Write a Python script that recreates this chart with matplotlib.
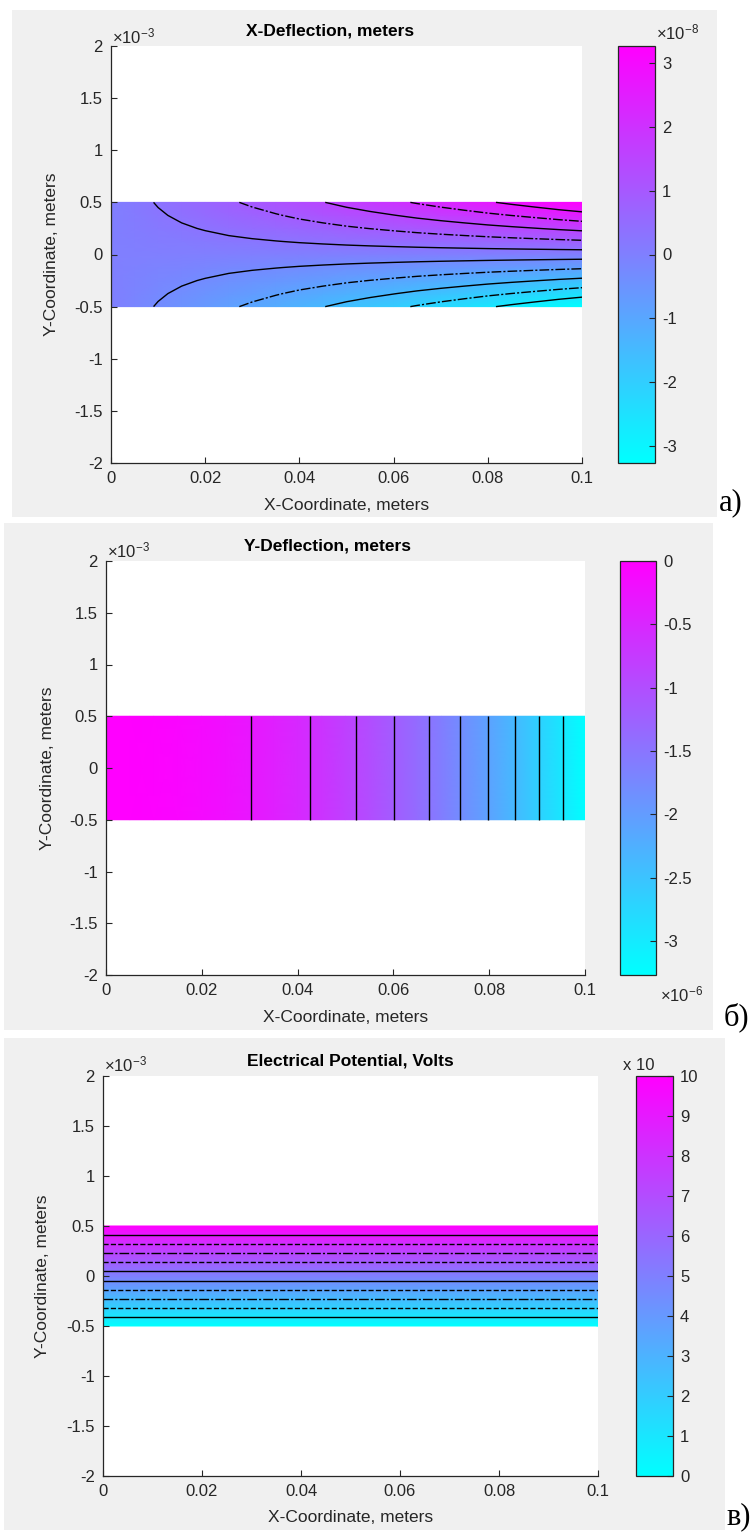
import numpy as np
import matplotlib
matplotlib.use("Agg")
import matplotlib.pyplot as plt
from matplotlib.patches import Rectangle

plt.rcParams['font.family'] = ['Liberation Sans', 'DejaVu Sans']
plt.rcParams['mathtext.fontset'] = 'custom'
plt.rcParams['mathtext.rm'] = 'Liberation Sans'
plt.rcParams['mathtext.it'] = 'Liberation Sans:italic'

# станции вдоль балки (м)
beam_x = [0.0, 0.005, 0.01, 0.015, 0.02, 0.025, 0.03, 0.035, 0.04, 0.045, 0.05,
          0.055, 0.06, 0.065, 0.07, 0.075, 0.08, 0.085, 0.09, 0.095, 0.1]
# станции по толщине (м)
beam_y = [-0.5e-3, -0.375e-3, -0.25e-3, -0.125e-3, 0.0,
          0.125e-3, 0.25e-3, 0.375e-3, 0.5e-3]

# а) X-прогиб на верхней грани (x1e-8 м)
ux_top = [0.0, 0.16, 0.33, 0.49, 0.65, 0.82, 0.98, 1.14, 1.31, 1.47, 1.64,
          1.80, 1.96, 2.13, 2.29, 2.45, 2.62, 2.78, 2.94, 3.11, 3.27]
# доля от значения на верхней грани, снизу вверх
ux_profile = [-1.0, -0.75, -0.5, -0.25, 0.0, 0.25, 0.5, 0.75, 1.0]
ux_range = [-3.27e-8, 3.27e-8]

# б) Y-прогиб вдоль балки (x1e-6 м)
uy = [0.0, -0.01, -0.03, -0.07, -0.13, -0.20, -0.29, -0.40, -0.52, -0.66, -0.82,
      -0.99, -1.18, -1.38, -1.60, -1.84, -2.09, -2.36, -2.65, -2.95, -3.27]
uy_range = [-3.27e-6, 0.0]

# в) потенциал на нижней и верхней гранях (В)
pot_x = [0.0, 0.1]
pot_y = [-0.5e-3, 0.5e-3]
pot = [0.0, 100.0]
pot_range = [0.0, 100.0]

# подписи осей
x_ticks = [0, 0.02, 0.04, 0.06, 0.08, 0.1]
x_labels = ['0', '0.02', '0.04', '0.06', '0.08', '0.1']
y_ticks = [-2e-3, -1.5e-3, -1e-3, -0.5e-3, 0, 0.5e-3, 1e-3, 1.5e-3, 2e-3]
y_labels = ['-2', '-1.5', '-1', '-0.5', '0', '0.5', '1', '1.5', '2']

cb_a_ticks = [-3e-8, -2e-8, -1e-8, 0, 1e-8, 2e-8, 3e-8]
cb_a_labels = ['-3', '-2', '-1', '0', '1', '2', '3']
cb_b_ticks = [-3e-6, -2.5e-6, -2e-6, -1.5e-6, -1e-6, -0.5e-6, 0]
cb_b_labels = ['-3', '-2.5', '-2', '-1.5', '-1', '-0.5', '0']
cb_c_ticks = [0, 10, 20, 30, 40, 50, 60, 70, 80, 90, 100]
cb_c_labels = ['0', '1', '2', '3', '4', '5', '6', '7', '8', '9', '10']

W, H = 753, 1537
fig = plt.figure(figsize=(W / 100, H / 100), dpi=100)
fig.patch.set_facecolor('white')

TXT = '#262626'
FS = 12
DD = (0, (7, 1.5, 1.5, 1.5))  # штрих-пунктир, как в исходнике


def rect(x0, y0, x1, y1):
    # пиксели (сверху вниз) -> доли фигуры
    return [x0 / W, 1 - y1 / H, (x1 - x0) / W, (y1 - y0) / H]


def P(x, y):
    return x / W, 1 - y / H


def gray(x0, y0, x1, y1):
    r = rect(x0, y0, x1, y1)
    fig.patches.append(Rectangle((r[0], r[1]), r[2], r[3], transform=fig.transFigure,
                                 facecolor='#f0f0f0', edgecolor='none', zorder=-10))


def panel(ax_px, cb_px, X, Y, Z, vrange, lstyles, cb_ticks, cb_labels):
    ax = fig.add_axes(rect(*ax_px))
    ax.set_facecolor('white')
    pc = ax.pcolormesh(X, Y, Z, shading='gouraud', cmap='cool',
                       vmin=vrange[0], vmax=vrange[1])
    levels = np.linspace(vrange[0], vrange[1], 12)[1:-1]
    ax.contour(X, Y, Z, levels=levels, colors='black', linewidths=1.0,
               linestyles=lstyles)
    ax.set_xlim(0, 0.1)
    ax.set_ylim(-2e-3, 2e-3)
    ax.set_xticks(x_ticks)
    ax.set_xticklabels(x_labels)
    ax.set_yticks(y_ticks)
    ax.set_yticklabels(y_labels)
    for s in ['top', 'right']:
        ax.spines[s].set_visible(False)
    for s in ['left', 'bottom']:
        ax.spines[s].set_color(TXT)
        ax.spines[s].set_linewidth(0.9)
    ax.tick_params(direction='in', length=4, width=0.8, colors=TXT,
                   labelsize=FS, pad=6)

    cax = fig.add_axes(rect(*cb_px))
    cb = fig.colorbar(pc, cax=cax, ticks=cb_ticks)
    cb.set_ticklabels(cb_labels)
    cb.outline.set_edgecolor(TXT)
    cb.outline.set_linewidth(0.9)
    cax.tick_params(direction='in', length=4, width=0.8, colors=TXT,
                    labelsize=FS, pad=5)
    return ax


def labels(ax_px, title, title_x, ylab_x, xlab_y, exp_xy):
    x0, y0, x1, y1 = ax_px
    fig.text(*P(title_x, y0 - 15), title, ha='center', va='center',
             fontsize=12.5, fontweight='bold', color='black')
    fig.text(*P(ylab_x, (y0 + y1) / 2), 'Y-Coordinate, meters', rotation=90,
             ha='center', va='center', fontsize=FS + 0.5, color=TXT)
    fig.text(*P((x0 + x1) / 2, xlab_y), 'X-Coordinate, meters',
             ha='center', va='center', fontsize=FS + 0.5, color=TXT)
    fig.text(*P(*exp_xy), r'$\times10^{-3}$', ha='left', va='center',
             fontsize=FS, color=TXT)


# --- а) X-Deflection ---
gray(12, 10, 717, 517)
ax_a = (111, 46, 582, 463)
Xa, Ya = np.meshgrid(beam_x, beam_y)
Za = np.outer(ux_profile, ux_top) * 1e-8
panel(ax_a, (618, 46, 655, 463), Xa, Ya, Za, ux_range,
      ['-', DD, '-', DD, '-', '-', DD, '-', DD, '-'],
      cb_a_ticks, cb_a_labels)
labels(ax_a, 'X-Deflection, meters', 330, 52, 505, (112, 36))
fig.text(*P(656, 32), r'$\times10^{-8}$', ha='left', va='center', fontsize=FS, color=TXT)
fig.text(*P(731, 503), 'а)', ha='center', va='center', fontsize=22,
         family='Liberation Serif', color='black')

# --- б) Y-Deflection ---
gray(4, 523, 713, 1030)
ax_b = (106, 561, 585, 975)
Xb, Yb = np.meshgrid(beam_x, pot_y)
Zb = np.vstack([uy, uy]) * 1e-6
panel(ax_b, (620, 561, 656, 975), Xb, Yb, Zb, uy_range, '-',
      cb_b_ticks, cb_b_labels)
labels(ax_b, 'Y-Deflection, meters', 328, 48, 1017, (107, 550))
fig.text(*P(660, 994), r'$\times10^{-6}$', ha='left', va='center', fontsize=FS, color=TXT)
fig.text(*P(736, 1017), 'б)', ha='center', va='center', fontsize=22,
         family='Liberation Serif', color='black')

# --- в) Electrical Potential ---
gray(4, 1038, 725, 1530)
ax_c = (103, 1076, 598, 1476)
Xc, Yc = np.meshgrid(pot_x, pot_y)
Zc = np.array([[pot[0], pot[0]], [pot[1], pot[1]]])
panel(ax_c, (636, 1076, 673, 1476), Xc, Yc, Zc, pot_range,
      ['-', '--', DD, '--', '-', '-', '--', DD, '--', '-'],
      cb_c_ticks, cb_c_labels)
labels(ax_c, 'Electrical Potential, Volts', 350, 43, 1517, (104, 1064))
fig.text(*P(639, 1066), 'x 10', ha='center', va='center', fontsize=FS, color=TXT)
fig.text(*P(739, 1517), 'в)', ha='center', va='center', fontsize=22,
         family='Liberation Serif', color='black')

fig.savefig('out.png', dpi=100)
